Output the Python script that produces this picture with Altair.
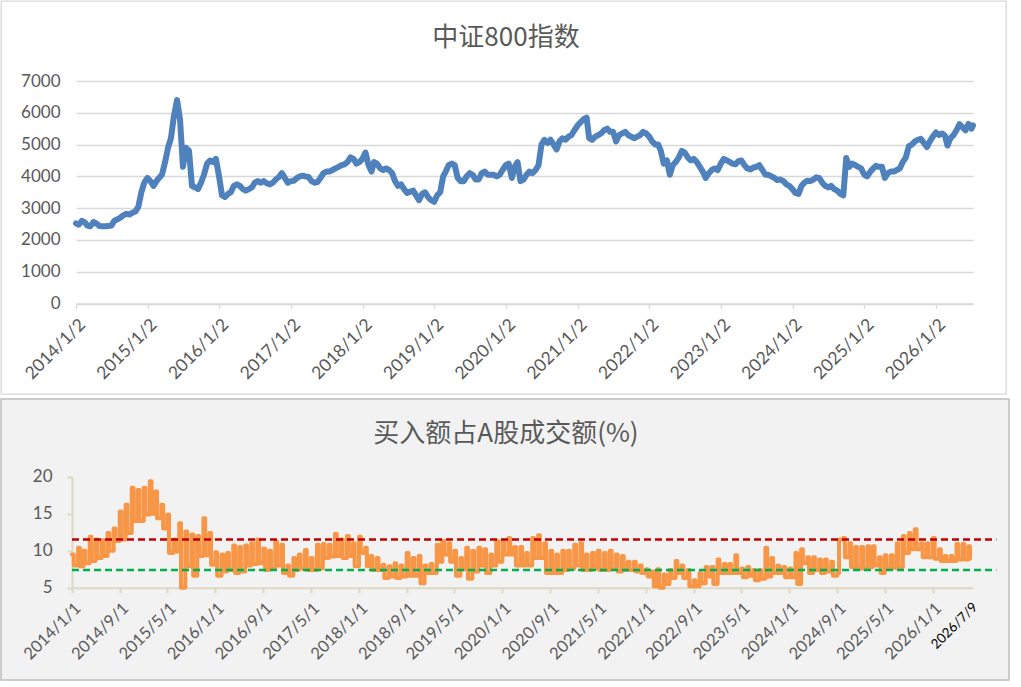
import altair as alt
import pandas as pd

TOP_TITLE = "中证800指数"
BOTTOM_TITLE = "买入额占A股成交额(%)"

# ---- 中证800指数: values on the 1st and 16th of each month ----
top_2014 = [2520, 2480, 2600, 2550, 2450, 2430, 2560, 2520, 2440, 2430, 2430, 2440,
            2450, 2600, 2650, 2700, 2780, 2820, 2800, 2850, 2900, 3050, 3500, 3800]
top_2015 = [3950, 3850, 3700, 3850, 3950, 4050, 4450, 4900, 5200, 5900, 6400, 5800,
            4300, 4900, 4800, 3700, 3650, 3600, 3800, 4050, 4400, 4500, 4450, 4550]
top_2016 = [4000, 3400, 3350, 3450, 3500, 3700, 3750, 3700, 3600, 3550, 3600, 3650,
            3800, 3850, 3800, 3850, 3780, 3750, 3800, 3900, 3980, 4100, 3950, 3800]
top_2017 = [3850, 3860, 3950, 4000, 4020, 4000, 3980, 3850, 3800, 3820, 3950, 4100,
            4150, 4150, 4200, 4250, 4300, 4350, 4380, 4450, 4600, 4550, 4400, 4450]
top_2018 = [4550, 4750, 4350, 4150, 4450, 4400, 4250, 4200, 4250, 4200, 4100, 3850,
            3700, 3750, 3600, 3480, 3520, 3550, 3400, 3250, 3450, 3500, 3350, 3250]
top_2019 = [3200, 3400, 3500, 4000, 4150, 4350, 4400, 4350, 3950, 3850, 3850, 4000,
            4100, 4050, 3900, 3900, 4100, 4150, 4050, 4050, 4050, 4000, 4050, 4200]
top_2020 = [4350, 4400, 3950, 4300, 4450, 3850, 3900, 4050, 4150, 4100, 4200, 4350,
            5000, 5150, 5050, 5150, 5000, 4850, 5100, 5200, 5150, 5250, 5300, 5450]
top_2021 = [5600, 5700, 5800, 5850, 5200, 5150, 5250, 5300, 5350, 5450, 5500, 5400,
            5400, 5100, 5300, 5350, 5400, 5300, 5250, 5200, 5250, 5300, 5400, 5350]
top_2022 = [5250, 5100, 5000, 5000, 4800, 4400, 4500, 4050, 4350, 4450, 4600, 4800,
            4750, 4600, 4500, 4550, 4450, 4300, 4150, 3950, 4100, 4200, 4250, 4200]
top_2023 = [4400, 4550, 4500, 4450, 4400, 4380, 4480, 4500, 4350, 4250, 4220, 4280,
            4300, 4350, 4200, 4050, 4050, 4000, 3950, 3880, 3900, 3850, 3750, 3700]
top_2024 = [3600, 3480, 3450, 3700, 3800, 3860, 3850, 3900, 3970, 3950, 3800, 3700,
            3650, 3700, 3600, 3550, 3450, 3400, 4580, 4300, 4400, 4350, 4300, 4250]
top_2025 = [4050, 4000, 4150, 4250, 4330, 4300, 4300, 3950, 4100, 4150, 4150, 4200,
            4250, 4450, 4600, 4950, 5000, 5100, 5150, 5180, 5050, 4920, 5100, 5250]
top_2026 = [5380, 5300, 5350, 5280, 4970, 5200, 5300, 5450, 5640, 5550, 5450, 5650,
            5500, 5600]

# ---- 买入额占A股成交额(%): two readings per month ----
bot_2014 = [9.5, 8.0, 10.4, 7.9, 10.0, 8.3, 11.9, 8.6, 11.5, 9.0, 11.4, 9.3,
            12.4, 10.0, 13.0, 11.3, 15.3, 11.5, 16.2, 12.4, 18.5, 14.0, 18.2, 14.0]
bot_2015 = [18.5, 14.9, 19.4, 15.0, 18.0, 14.4, 16.2, 13.0, 14.9, 9.7, 11.5, 9.9,
            13.7, 5.0, 12.6, 7.9, 12.2, 6.6, 12.0, 9.3, 14.4, 9.4, 12.4, 8.1]
bot_2016 = [9.8, 6.6, 9.5, 7.2, 9.7, 7.4, 10.7, 7.0, 10.5, 7.2, 10.7, 8.0,
            11.0, 8.2, 11.5, 8.3, 10.3, 7.4, 10.0, 7.6, 11.2, 8.0, 10.8, 7.0]
bot_2017 = [8.0, 6.6, 9.0, 7.4, 9.5, 7.6, 10.1, 7.4, 9.0, 7.4, 10.8, 7.6,
            10.9, 9.0, 10.8, 9.2, 12.3, 9.3, 11.5, 9.0, 12.0, 9.3, 11.0, 7.9]
bot_2018 = [11.9, 9.7, 10.4, 7.9, 9.3, 7.4, 9.0, 7.4, 8.1, 6.3, 7.9, 6.5,
            8.3, 6.3, 8.0, 6.5, 9.7, 6.6, 9.0, 6.6, 9.3, 5.6, 8.0, 7.0]
bot_2019 = [8.2, 7.0, 10.8, 8.5, 11.3, 9.5, 11.0, 8.5, 10.0, 6.6, 9.0, 7.5,
            10.4, 6.2, 10.0, 7.2, 10.4, 8.0, 10.2, 7.0, 9.5, 8.0, 11.3, 8.5]
bot_2020 = [11.3, 9.5, 11.7, 9.5, 10.5, 8.0, 10.5, 8.0, 9.7, 8.0, 11.7, 9.0,
            12.1, 9.0, 11.0, 7.0, 10.0, 7.0, 9.5, 7.0, 10.0, 7.4, 10.0, 7.6]
bot_2021 = [10.8, 8.0, 11.0, 7.4, 9.5, 7.4, 9.7, 7.6, 10.0, 7.4, 9.7, 7.4,
            10.0, 7.6, 9.5, 7.2, 9.3, 7.4, 8.5, 7.4, 8.5, 7.2, 8.0, 7.0]
bot_2022 = [7.5, 6.5, 7.2, 5.2, 7.5, 5.0, 6.8, 5.5, 7.4, 6.3, 8.6, 7.0,
            8.0, 6.3, 7.4, 5.2, 6.0, 5.2, 7.0, 5.6, 7.8, 6.5, 7.8, 5.5]
bot_2023 = [8.8, 7.0, 8.2, 7.0, 8.2, 7.0, 9.4, 7.0, 7.6, 6.4, 7.8, 6.6,
            7.4, 6.0, 7.4, 6.2, 10.4, 6.5, 9.0, 7.0, 8.0, 7.0, 7.8, 6.4]
bot_2024 = [7.6, 6.4, 9.7, 5.5, 10.2, 8.3, 9.1, 7.0, 9.1, 7.4, 8.8, 7.0,
            8.8, 7.2, 8.5, 6.6, 7.0, 11.5, 11.7, 9.1, 11.0, 7.8, 10.5, 7.6]
bot_2025 = [10.5, 7.6, 10.6, 7.8, 10.6, 8.0, 9.1, 7.0, 9.4, 7.7, 9.4, 7.7,
            11.0, 7.8, 12.0, 9.7, 12.4, 10.2, 12.9, 10.2, 11.0, 9.1, 11.0, 9.1]
bot_2026 = [11.7, 8.9, 10.2, 8.6, 9.3, 8.6, 9.3, 8.6, 10.9, 8.8, 10.9, 8.8,
            10.6, 8.9]

years = list(range(2014, 2027))
top_series = [top_2014, top_2015, top_2016, top_2017, top_2018, top_2019, top_2020,
              top_2021, top_2022, top_2023, top_2024, top_2025, top_2026]
bot_series = [bot_2014, bot_2015, bot_2016, bot_2017, bot_2018, bot_2019, bot_2020,
              bot_2021, bot_2022, bot_2023, bot_2024, bot_2025, bot_2026]

top_ticks = ["2014-01-02", "2015-01-02", "2016-01-02", "2017-01-02", "2018-01-02",
             "2019-01-02", "2020-01-02", "2021-01-02", "2022-01-02", "2023-01-02",
             "2024-01-02", "2025-01-02", "2026-01-02"]
top_y_ticks = [0, 1000, 2000, 3000, 4000, 5000, 6000, 7000]
bot_ticks = ["2014-01-01", "2014-09-01", "2015-05-01", "2016-01-01", "2016-09-01",
             "2017-05-01", "2018-01-01", "2018-09-01", "2019-05-01", "2020-01-01",
             "2020-09-01", "2021-05-01", "2022-01-01", "2022-09-01", "2023-05-01",
             "2024-01-01", "2024-09-01", "2025-05-01", "2026-01-01", "2026-07-09"]
bot_y_ticks = [5, 10, 15, 20]
red_level = 11.5
green_level = 7.4
START_TOP = "2014-01-02"
START_BOT = "2014-01-01"
END_DATE = "2026-07-09"


def build(series, first, second_day):
    rows = []
    for y, vals in zip(years, series):
        for i, v in enumerate(vals):
            mo = i // 2 + 1
            day = 1 if i % 2 == 0 else second_day
            rows.append([f"{y}-{mo:02d}-{day:02d}", v])
    rows[0][0] = first
    rows[-1][0] = END_DATE
    return pd.DataFrame({"date": [r[0] + "T00:00:00" for r in rows],
                         "v": [r[1] for r in rows]})


top_df = build(top_series, START_TOP, 16)
bot_df = build(bot_series, START_BOT, 10)


def dt(s):
    y, m, d = map(int, s.split("-"))
    return alt.DateTime(year=y, month=m, date=d)


GRAY = "#595959"
LFONT = "Lato"
TFONT = "Noto Sans CJK SC"
BEIGE = "#ddd9c3"

# ---------------- top panel ----------------
TOP_W, TOP_H = 1005, 393
top_x = alt.X(
    "date:T",
    scale=alt.Scale(domain=[dt(START_TOP), dt(END_DATE)], range=[75, 972], nice=False),
    axis=alt.Axis(values=[dt(s) for s in top_ticks], format="%Y/%-m/%-d",
                  labelAngle=-45, labelFlush=False, labelOverlap=False,
                  offset=302.5 - TOP_H, grid=False, domainColor="#d9d9d9",
                  domainWidth=1.3, tickColor="#d9d9d9", tickWidth=1.3, tickSize=5,
                  labelColor=GRAY, labelFont=LFONT, labelFontSize=17.5,
                  labelPadding=7, title=None),
)
top_y = alt.Y(
    "v:Q",
    scale=alt.Scale(domain=[0, 7000], range=[302.5, 80], nice=False, zero=False),
    axis=alt.Axis(values=top_y_ticks, format="d", offset=-75, grid=True,
                  gridColor="#d9d9d9", gridWidth=1.3, domain=False, ticks=False,
                  labelColor=GRAY, labelFont=LFONT, labelFontSize=17,
                  labelPadding=16, title=None),
)

top_line = alt.Chart(top_df).mark_line(
    color="#4f81bd", strokeWidth=6, strokeJoin="round", strokeCap="round"
).encode(x=top_x, y=top_y)

top_title = alt.Chart(pd.DataFrame({"t": [TOP_TITLE]})).mark_text(
    font=TFONT, fontSize=26, color=GRAY, align="center", baseline="middle"
).encode(text="t:N", x=alt.value(505), y=alt.value(37))

top = alt.layer(top_line, top_title).properties(
    width=TOP_W, height=TOP_H,
    view=alt.ViewBackground(fill="white", stroke="#d9d9d9", strokeWidth=1.3),
)

# ---------------- bottom panel ----------------
BOT_W, BOT_H = 1008, 281
lbl_test = "datum.label == '2026/7/9'"
bot_x = alt.X(
    "date:T",
    scale=alt.Scale(domain=[dt(START_BOT), dt("2026-07-24")], range=[71, 972], nice=False),
    axis=alt.Axis(values=[dt(s) for s in bot_ticks], format="%Y/%-m/%-d",
                  labelAngle=-45, labelFlush=False, labelOverlap=False,
                  offset=188.7 - BOT_H, grid=False, domainColor=BEIGE,
                  domainWidth=2, tickColor=BEIGE, tickWidth=2, tickSize=5,
                  tickOpacity={"condition": {"test": lbl_test, "value": 0}, "value": 1},
                  labelColor={"condition": {"test": lbl_test, "value": "#000000"}, "value": GRAY},
                  labelFontSize={"condition": {"test": lbl_test, "value": 13.5}, "value": 16.5},
                  labelFont=LFONT, labelPadding=7, title=None),
)
bot_y = alt.Y(
    "v:Q",
    scale=alt.Scale(domain=[5, 20], range=[188.7, 77.7], nice=False, zero=False),
    axis=alt.Axis(values=bot_y_ticks, offset=-71, grid=False, domain=True,
                  domainColor=BEIGE, domainWidth=2, ticks=True, tickColor=BEIGE,
                  tickWidth=2, tickSize=5, labelColor=GRAY, labelFont=LFONT,
                  labelFontSize=17, labelPadding=15, title=None),
)

bot_line = alt.Chart(bot_df).mark_line(
    color="#f79646", strokeWidth=4, interpolate="step-after",
    strokeJoin="round", strokeCap="round"
).encode(x=bot_x, y=bot_y)

levels = pd.DataFrame({
    "date": [START_BOT + "T00:00:00"] * 2,
    "date_end": ["2026-11-20T00:00:00"] * 2,
    "v": [red_level, green_level],
    "kind": ["red", "green"],
})
red_rule = alt.Chart(levels).transform_filter("datum.kind == 'red'").mark_rule(
    color="#c00000", strokeWidth=2.5, strokeDash=[7, 4]
).encode(x=bot_x, x2="date_end:T", y=bot_y)
green_rule = alt.Chart(levels).transform_filter("datum.kind == 'green'").mark_rule(
    color="#00b050", strokeWidth=2.5, strokeDash=[7, 4]
).encode(x=bot_x, x2="date_end:T", y=bot_y)

bot_title = alt.Chart(pd.DataFrame({"t": [BOTTOM_TITLE]})).mark_text(
    font=TFONT, fontSize=26, color=GRAY, align="center", baseline="middle"
).encode(text="t:N", x=alt.value(505), y=alt.value(35))

bottom = alt.layer(bot_line, red_rule, green_rule, bot_title).properties(
    width=BOT_W, height=BOT_H,
    view=alt.ViewBackground(fill="#f2f2f2", stroke="#bfbfbf", strokeWidth=1.5),
)

chart = alt.vconcat(top, bottom, spacing=3).properties(
    padding=0, background="white"
)

chart.save("out.html", embed_options={"renderer": "svg", "actions": False})
